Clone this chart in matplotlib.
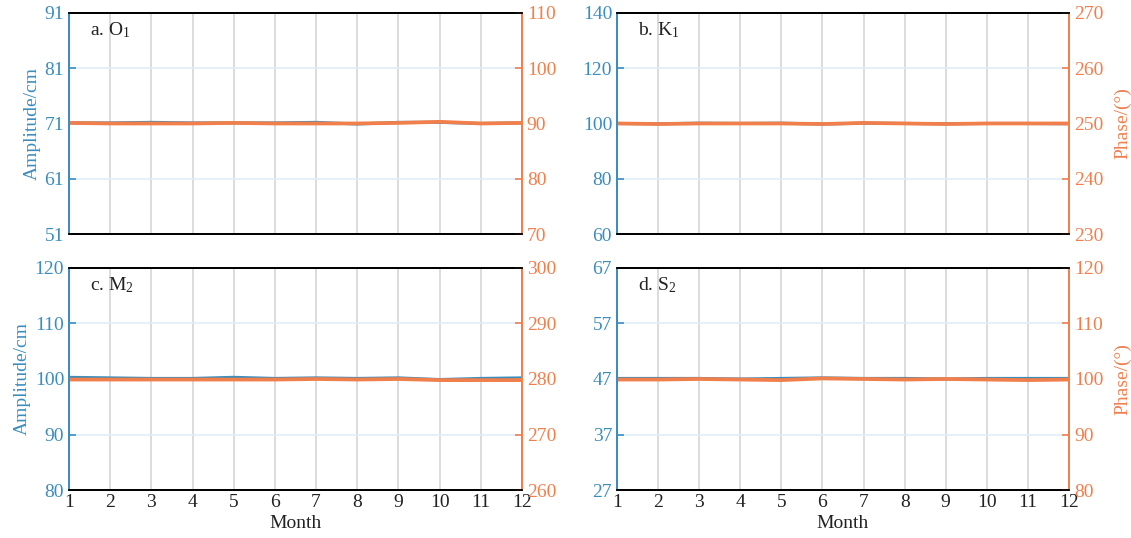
import matplotlib
matplotlib.use('Agg')
import matplotlib.pyplot as plt

plt.rcParams['font.family'] = ['Liberation Serif', 'DejaVu Serif']
plt.rcParams['mathtext.fontset'] = 'custom'
plt.rcParams['mathtext.rm'] = 'Liberation Serif'
plt.rcParams['mathtext.it'] = 'Liberation Serif'

# monthly harmonic constants
months = list(range(1, 13))

o1_amp = [71.1, 71.1, 71.2, 71.1, 71.1, 71.1, 71.2, 70.9, 71.2, 71.2, 71.0, 71.1]
o1_pha = [90.1, 90.0, 90.0, 90.0, 90.1, 90.0, 90.0, 90.0, 90.1, 90.3, 90.0, 90.1]
k1_amp = [100.0, 99.9, 100.1, 100.0, 100.1, 99.8, 100.1, 100.0, 99.9, 100.0, 100.0, 99.9]
k1_pha = [250.0, 249.9, 250.0, 250.0, 250.0, 249.9, 250.1, 250.0, 249.9, 250.0, 250.0, 250.0]
m2_amp = [100.3, 100.2, 100.1, 100.1, 100.3, 100.1, 100.2, 100.1, 100.2, 99.9, 100.1, 100.2]
m2_pha = [279.9, 279.9, 279.9, 279.9, 279.9, 279.9, 280.0, 279.9, 280.0, 279.8, 279.8, 279.8]
s2_amp = [47.1, 47.1, 47.1, 47.0, 47.1, 47.2, 47.1, 47.1, 47.0, 47.1, 47.1, 47.1]
s2_pha = [99.9, 99.9, 100.0, 99.9, 99.8, 100.1, 100.0, 99.9, 100.0, 99.9, 99.8, 99.9]

labels = ['a. O$_1$', 'b. K$_1$', 'c. M$_2$', 'd. S$_2$']
amp_ticks = [[51, 61, 71, 81, 91], [60, 80, 100, 120, 140],
             [80, 90, 100, 110, 120], [27, 37, 47, 57, 67]]
pha_ticks = [[70, 80, 90, 100, 110], [230, 240, 250, 260, 270],
             [260, 270, 280, 290, 300], [80, 90, 100, 110, 120]]
amps = [o1_amp, k1_amp, m2_amp, s2_amp]
phas = [o1_pha, k1_pha, m2_pha, s2_pha]

blue = '#3a8dbd'
orange = '#f07f4c'

fig = plt.figure(figsize=(11.31, 5.38), dpi=100)
pos = [[0.061, 0.565, 0.4005, 0.411], [0.5455, 0.565, 0.3997, 0.411],
       [0.061, 0.0892, 0.4005, 0.4127], [0.5455, 0.0892, 0.3997, 0.4127]]

for i in range(4):
    ax = fig.add_axes(pos[i])
    ax2 = ax.twinx()
    ax.plot(months, amps[i], color=blue, lw=2.2)
    ax2.plot(months, phas[i], color=orange, lw=2.7)

    ax.set_xlim(1, 12)
    ax.set_xticks(months)
    ax.set_ylim(amp_ticks[i][0], amp_ticks[i][-1])
    ax.set_yticks(amp_ticks[i])
    ax2.set_ylim(pha_ticks[i][0], pha_ticks[i][-1])
    ax2.set_yticks(pha_ticks[i])

    # grid: gray verticals, light blue horizontals
    ax.xaxis.grid(True, color='#d9d9d9', lw=1.3)
    ax.yaxis.grid(True, color='#e0eef8', lw=1.2)
    ax.set_axisbelow(True)

    for a in (ax, ax2):
        a.spines['top'].set_color('black')
        a.spines['bottom'].set_color('black')
        a.spines['left'].set_color(blue)
        a.spines['right'].set_color(orange)
        for s in a.spines.values():
            s.set_linewidth(1.3)

    ax.tick_params(axis='y', direction='in', colors=blue, labelsize=14, length=5, width=1.2)
    ax2.tick_params(axis='y', direction='in', colors=orange, labelsize=14, length=5, width=1.2)
    ax.tick_params(axis='x', length=0, labelsize=14, labelcolor='#222222', pad=3)

    if i < 2:
        ax.set_xticklabels([])
    else:
        ax.set_xlabel('Month', fontsize=14, color='#222222', labelpad=3)
    if i % 2 == 0:
        ax.set_ylabel('Amplitude/cm', fontsize=14, color=blue, labelpad=3)
    else:
        ax2.set_ylabel('Phase/(°)', fontsize=14, color=orange, labelpad=8)

    ax.text(0.046, 0.9, labels[i], transform=ax.transAxes, fontsize=14, color='#222222')

fig.savefig('out.png', dpi=100)
